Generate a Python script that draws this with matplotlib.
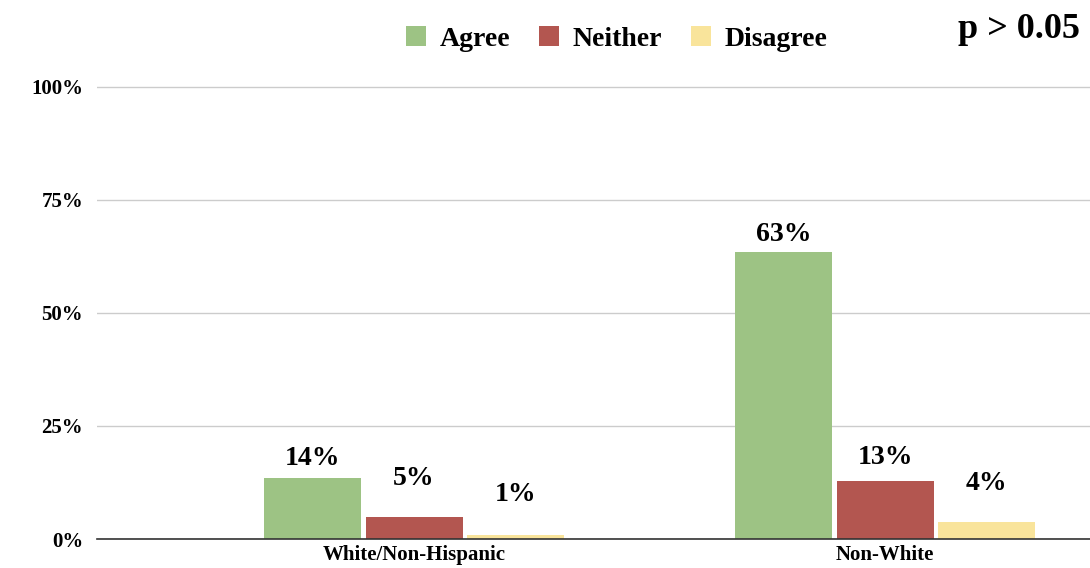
import matplotlib.pyplot as plt
import numpy as np

# survey responses by group (percent of respondents)
groups = ["White/Non-Hispanic", "Non-White"]
responses = ["Agree", "Neither", "Disagree"]
agree = [13.5, 63.4]
neither = [4.8, 12.8]
disagree = [0.9, 3.7]
y_ticks = [0, 25, 50, 75, 100]

colors = ["#9dc384", "#b35650", "#f9e49b"]
series = [agree, neither, disagree]

plt.rcParams['font.family'] = ['Liberation Serif', 'DejaVu Serif']
plt.rcParams['font.weight'] = 'bold'

fig = plt.figure(figsize=(10.9, 5.68), dpi=100)
ax = fig.add_axes([0.089, 0.051, 0.911, 0.799])

x = np.arange(len(groups))
width = 0.206
step = 0.216
# label offsets (points above bar top) so neighbouring labels don't collide
label_pad = [[5, 4], [19, 8], [20, 19]]

for i, (vals, col, name) in enumerate(zip(series, colors, responses)):
    pos = x + (i - 1) * step
    bars = ax.bar(pos, vals, width, color=col, label=name, zorder=3)
    for j, b in enumerate(bars):
        ax.annotate("%.0f%%" % vals[j], (b.get_x() + b.get_width() / 2, b.get_height()),
                    xytext=(0, label_pad[i][j]), textcoords="offset points",
                    ha="center", va="bottom", fontsize=20, fontweight="bold")

ax.set_xlim(-0.673, 1.435)
ax.set_ylim(0, 100.3)
ax.set_yticks(y_ticks)
ax.set_yticklabels(["%d%%" % t for t in y_ticks])
ax.set_xticks(x)
ax.set_xticklabels(groups)
ax.tick_params(axis="y", length=0, pad=10, labelsize=15)
ax.tick_params(axis="x", length=0, pad=4, labelsize=15)
ax.grid(axis="y", color="#cccccc", linewidth=1, zorder=0)
for s in ["top", "right", "left"]:
    ax.spines[s].set_visible(False)
ax.spines["bottom"].set_color("#333333")
ax.spines["bottom"].set_linewidth(1.2)
ax.spines["bottom"].set_zorder(4)

fig.legend(loc="center", bbox_to_anchor=(0.566, 0.931), ncol=3, frameon=False,
           fontsize=20, handlelength=0.72, handleheight=0.72, columnspacing=1.03,
           handletextpad=0.49)

fig.text(0.991, 0.948, "p > 0.05", ha="right", va="center",
         fontsize=26, fontweight="bold")

fig.savefig("out.png", dpi=100)
